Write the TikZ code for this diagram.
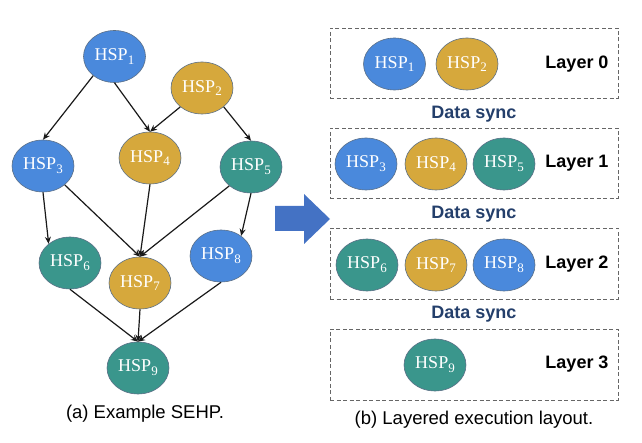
\documentclass[tikz,border=0pt]{standalone}
\usepackage{fontspec}
\setmainfont{Liberation Serif}
\newfontfamily\arialf{Liberation Sans}
\usetikzlibrary{arrows.meta,shapes.geometric}
\definecolor{hblue}{HTML}{4A89DC}
\definecolor{hgold}{HTML}{D6A83C}
\definecolor{hteal}{HTML}{3A968C}
\definecolor{hedge}{HTML}{5B6F86}
\definecolor{syncc}{HTML}{243F6B}
\definecolor{barrow}{HTML}{4472C4}
\newcommand\hsplab[1]{HSP\raisebox{-3.8pt}{\fontsize{13}{13}\selectfont #1}}
\tikzset{
  hsp/.style={ellipse, draw=hedge, line width=0.6pt, minimum width=62pt, minimum height=52pt, inner sep=0pt, text=white, font=\fontsize{18}{18}\selectfont},
  hb/.style={hsp, fill=hblue},
  hg/.style={hsp, fill=hgold},
  ht/.style={hsp, fill=hteal},
  edge/.style={line width=1.2pt, draw=black!90, -{Stealth[length=7pt,width=6pt]}},
  layerbox/.style={draw=black!60, dashed, dash pattern=on 4pt off 2.5pt, line width=0.8pt},
  layerlab/.style={font=\arialf\bfseries\fontsize{18}{18}\selectfont, text=black},
  synclab/.style={font=\arialf\bfseries\fontsize{18}{18}\selectfont, text=syncc},
  caplab/.style={font=\arialf\fontsize{18.5}{19}\selectfont, text=black}
}
\begin{document}
\begin{tikzpicture}[x=1pt,y=-1pt]
\useasboundingbox (0,0) rectangle (642,443);
% left graph
\node[hb] (a1) at (114.5,56.5) {\hsplab{1}};
\node[hg] (a2) at (202,88) {\hsplab{2}};
\node[hb] (a3) at (43,166) {\hsplab{3}};
\node[hg] (a4) at (150,158) {\hsplab{4}};
\node[ht] (a5) at (251,167) {\hsplab{5}};
\node[ht] (a6) at (70,263) {\hsplab{6}};
\node[hg] (a7) at (140,283) {\hsplab{7}};
\node[hb] (a8) at (221,256) {\hsplab{8}};
\node[ht] (a9) at (138,368) {\hsplab{9}};
\draw[edge] (a1.222) -- (a3.north);
\draw[edge] (a1.south) -- (a4.north);
\draw[edge] (a2.221) -- (a4.north);
\draw[edge] (a2.319) -- (a5.north);
\draw[edge] (a3.south) -- (a6.138);
\draw[edge] (a3.319) -- (a7.north);
\draw[edge] (a4.south) -- (a7.north);
\draw[edge] (a5.221) -- (a7.north);
\draw[edge] (a5.south) -- (a8.45);
\draw[edge] (a6.south) -- (a9.north);
\draw[edge] (a7.south) -- (a9.north);
\draw[edge] (a8.south) -- (a9.north);
\node[caplab] (capa) at (145,414) {(a) Example SEHP.};
% block arrow
\fill[barrow] (275,206) -- (304,206) -- (304,194) -- (330,219) -- (304,244) -- (304,231) -- (275,231) -- cycle;
% right side
\node[layerbox, minimum width=288pt, minimum height=70pt, inner sep=0pt] (L0) at (474,63) {};
\node[layerbox, minimum width=288pt, minimum height=70pt, inner sep=0pt] (L1) at (474,163) {};
\node[layerbox, minimum width=288pt, minimum height=71pt, inner sep=0pt] (L2) at (474,263.5) {};
\node[layerbox, minimum width=288pt, minimum height=71pt, inner sep=0pt] (L3) at (474,364.5) {};
\node[hb] (b1) at (394.5,64) {\hsplab{1}};
\node[hg] (b2) at (467,64) {\hsplab{2}};
\node[hb] (b3) at (366,164) {\hsplab{3}};
\node[hg] (b4) at (436,164) {\hsplab{4}};
\node[ht] (b5) at (504,164) {\hsplab{5}};
\node[ht] (b6) at (367,265) {\hsplab{6}};
\node[hg] (b7) at (436,265) {\hsplab{7}};
\node[hb] (b8) at (504,265) {\hsplab{8}};
\node[ht] (b9) at (435,365) {\hsplab{9}};
\node[layerlab] (t0) at (577,64) {Layer 0};
\node[layerlab] (t1) at (577,163) {Layer 1};
\node[layerlab] (t2) at (577,264) {Layer 2};
\node[layerlab] (t3) at (577,364) {Layer 3};
\node[synclab] (s1) at (474,114) {Data sync};
\node[synclab] (s2) at (474,214) {Data sync};
\node[synclab] (s3) at (474,314) {Data sync};
\node[caplab] (capb) at (474,420) {(b) Layered execution layout.};
\end{tikzpicture}
\end{document}
